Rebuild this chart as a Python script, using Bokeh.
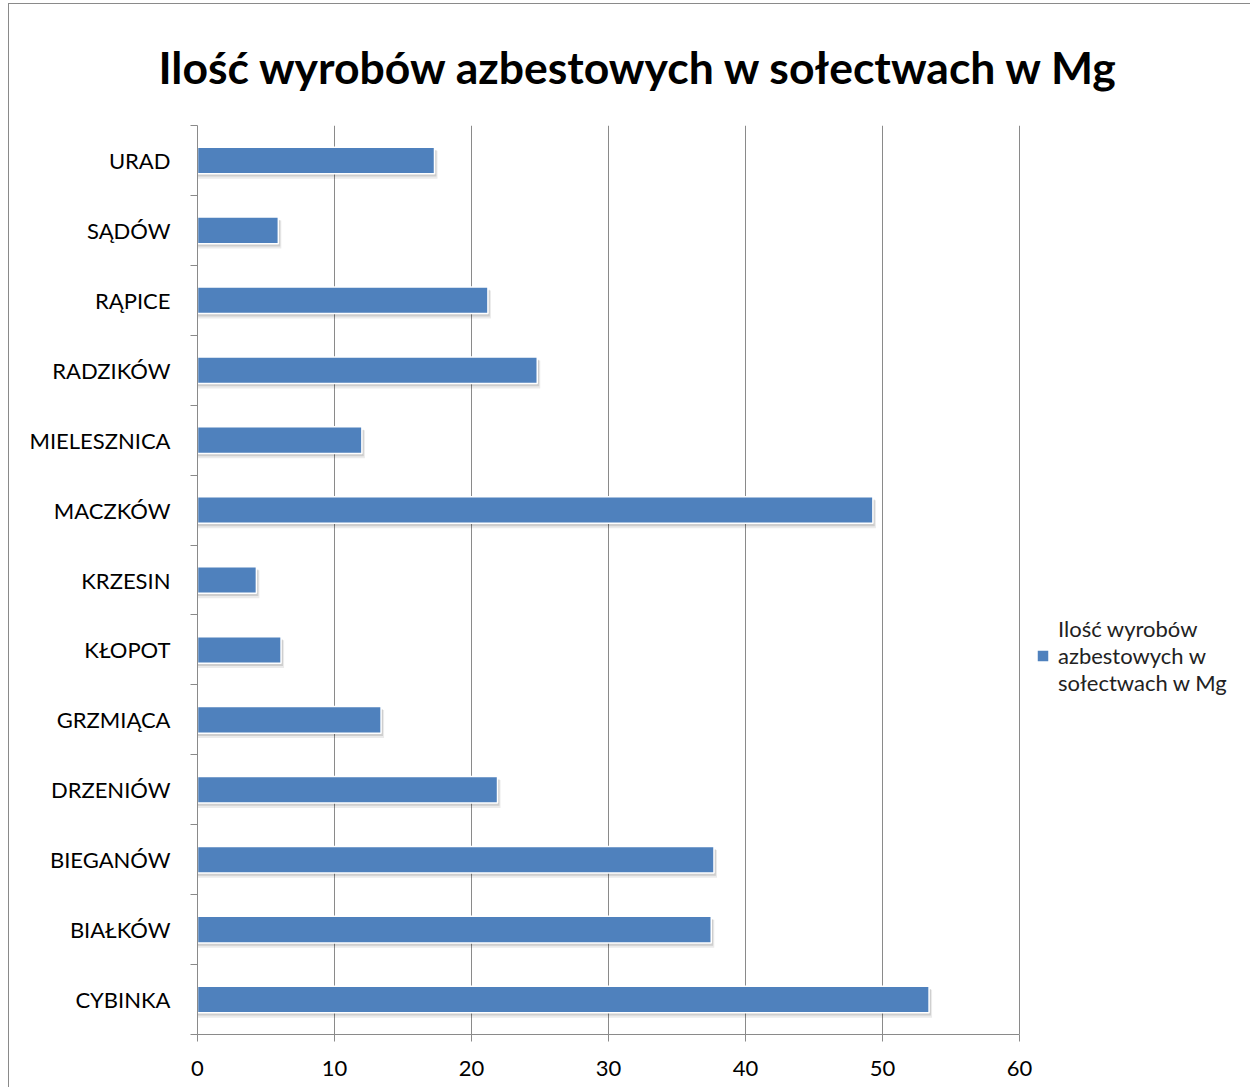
from bokeh.plotting import figure
from bokeh.models import Range1d, FixedTicker, Legend, LegendItem
from bokeh.embed import file_html
from bokeh.resources import INLINE

# ---- data ----
categories = ["CYBINKA", "BIAŁKÓW", "BIEGANÓW", "DRZENIÓW", "GRZMIĄCA", "KŁOPOT",
              "KRZESIN", "MACZKÓW", "MIELESZNICA", "RADZIKÓW", "RĄPICE", "SĄDÓW", "URAD"]
values = [53.4, 37.5, 37.7, 21.9, 13.4, 6.1, 4.3, 49.3, 12.0, 24.8, 21.2, 5.9, 17.3]
x_ticks = [0, 10, 20, 30, 40, 50, 60]
title_text = "Ilość wyrobów azbestowych w sołectwach w Mg"
series_name = "Ilość wyrobów\nazbestowych w\nsołectwach w Mg"

n = len(categories)
pos = [i + 0.5 for i in range(n)]
bounds = list(range(n + 1))

FONT = "Lato"
GRID = "#8a8a8a"
BAR = "#4F81BD"

W, H = 1242, 1084
LEFT, TOP, BOTTOM = 188, 112, 54
AXIS_W = 822  # pixel width of the 0..60 axis
x_max = x_ticks[-1]
x_end = x_max * (W - LEFT) / AXIS_W  # frame extends right to hold the legend

p = figure(width=W, height=H, output_backend="svg", toolbar_location=None,
           x_range=Range1d(0, x_end), y_range=Range1d(0, n),
           min_border_left=LEFT, min_border_right=0, min_border_top=TOP,
           min_border_bottom=BOTTOM)
p.styles = {"border-left": "1px solid #8a8a8a", "border-top": "1px solid #8a8a8a",
            "margin-left": "8px", "margin-top": "3px"}
p.outline_line_color = None
p.background_fill_color = "white"

# title
p.title.text = title_text
p.title.align = "left"
p.title.text_font = FONT
p.title.text_font_style = "bold"
p.title.text_font_size = "44.5px"
p.title.text_color = "#000000"
p.title.offset = -39
p.title.standoff = 66

# shadow layers
p.hbar(y=[y - 0.06 for y in pos], left=0, right=[v + 0.22 for v in values], height=0.40,
       fill_color="black", fill_alpha=0.08, line_color=None)
p.hbar(y=[y - 0.04 for y in pos], left=0, right=[v + 0.14 for v in values], height=0.38,
       fill_color="black", fill_alpha=0.12, line_color=None)
bars = p.hbar(y=pos, left=0, right=values, height=0.38,
              fill_color=BAR, line_color="white", line_width=1.5)

# grid
p.xgrid.ticker = FixedTicker(ticks=x_ticks)
p.xgrid.grid_line_color = GRID
p.xgrid.bounds = (0, x_max)
p.ygrid.grid_line_color = None

# x axis
p.xaxis.ticker = FixedTicker(ticks=x_ticks)
p.xaxis.bounds = (0, x_max)
p.xaxis.axis_line_color = GRID
p.xaxis.major_tick_line_color = GRID
p.xaxis.major_tick_out = 7
p.xaxis.major_tick_in = 0
p.xaxis.minor_tick_line_color = None
p.xaxis.major_label_text_font = FONT
p.xaxis.major_label_text_font_size = "22px"
p.xaxis.major_label_text_color = "#000000"
p.xaxis.major_label_standoff = 19

# y axis
p.yaxis.ticker = FixedTicker(ticks=pos, minor_ticks=bounds)
p.yaxis.major_label_overrides = {y: c for y, c in zip(pos, categories)}
p.yaxis.axis_line_color = GRID
p.yaxis.major_tick_line_color = None
p.yaxis.major_tick_out = 0
p.yaxis.major_tick_in = 0
p.yaxis.minor_tick_line_color = GRID
p.yaxis.minor_tick_out = 7
p.yaxis.minor_tick_in = 0
p.yaxis.major_label_text_font = FONT
p.yaxis.major_label_text_font_size = "22px"
p.yaxis.major_label_text_color = "#000000"
p.yaxis.major_label_standoff = 20

# legend
legend = Legend(items=[LegendItem(label=series_name, renderers=[bars])],
                location=(838, 338), border_line_color=None,
                background_fill_alpha=0, padding=0, margin=0,
                label_text_font=FONT, label_text_font_size="22px",
                label_text_color="#222222", glyph_width=15, glyph_height=15,
                label_standoff=8)
p.add_layout(legend)

open("out.html", "w").write(file_html(p, INLINE))
